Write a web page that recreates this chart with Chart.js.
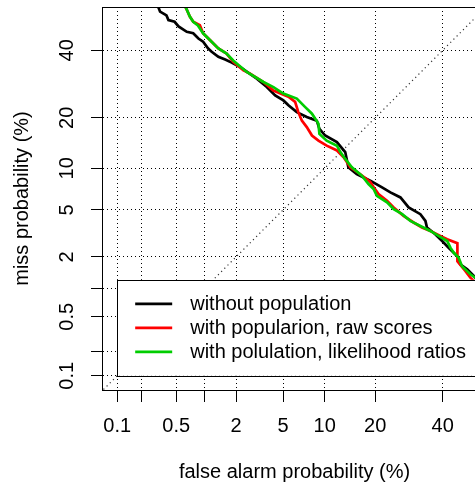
<!DOCTYPE html>
<html>
<head>
<meta charset="utf-8">
<script src="https://cdn.jsdelivr.net/npm/chart.js@4.4.1/dist/chart.umd.min.js"></script>
<style>
html, body { margin: 0; padding: 0; overflow: hidden; background: #fff; }
canvas { display: block; }
</style>
</head>
<body>
<canvas id="chart" width="500" height="484"></canvas>
<script>
// ticks (percent) and their labels, the same on both axes
const tickValues = [0.1, 0.2, 0.5, 1, 2, 5, 10, 20, 40];
const tickLabels = ["0.1", "", "0.5", "", "2", "5", "10", "20", "40"];
const axisLimits = [0.1, 50];

const seriesNames = ["without population", "with popularion, raw scores", "with polulation, likelihood ratios"];
const seriesColors = ["#000000", "#ff0000", "#00cd00"];

// false alarm (%) and miss (%)
const faWithout = [0.30, 0.33, 0.39, 0.41, 0.48, 0.53, 0.65, 0.76, 0.86, 0.96, 1.08, 1.17, 1.36, 1.58, 1.82,
		2.17, 2.49, 3.05, 3.70, 4.33, 5.03, 5.50, 6.36, 7.52, 8.84, 9.21, 10.06, 11.98, 13.5, 14.1,
		15.8, 18.8, 21.7, 23.9, 26.7, 29.1, 32.7, 34.3, 34.8, 37.5, 39.8, 42.0, 44.9, 46.0, 48.4, 50.7, 53.0, 55.1];
const missWithout = [56.5, 53.3, 52.0, 50.4, 49.8, 48.2, 46.3, 45.8, 44.0, 42.9, 40.6, 39.5, 37.8, 36.9, 35.9,
		34.5, 33.0, 30.8, 28.3, 25.9, 24.5, 23.2, 21.4, 20.2, 19.3, 17.4, 15.95, 14.6, 12.7, 10.15,
		9.15, 8.23, 7.38, 6.79, 6.23, 5.23, 4.63, 4.09, 3.61, 3.17, 2.77, 2.42, 2.03, 1.70, 1.53, 1.32, 1.09, 0.93];

const faRaw = [0.58, 0.64, 0.70, 0.76, 0.89, 0.96, 1.13, 1.36, 1.63, 1.88, 2.33, 2.67, 3.47, 4.19, 5.50,
		6.18, 6.53, 6.93, 7.52, 8.18, 9.07, 10.3, 12.0, 13.2, 14.5, 16.5, 18.8, 19.6, 20.8, 23.0,
		24.8, 27.6, 30.6, 33.2, 35.9, 39.2, 41.5, 45.0, 45.0, 47.8, 49.5, 52.3, 55.1];
const missRaw = [56.5, 54.5, 51.6, 49.8, 48.6, 45.8, 43.4, 40.6, 38.9, 36.2, 33.4, 32.4, 29.8, 27.3, 25.5,
		24.1, 21.4, 19.3, 17.8, 15.95, 14.9, 13.9, 13.0, 11.8, 10.15, 9.15, 8.06, 7.42, 6.60, 5.88,
		5.23, 4.49, 3.97, 3.61, 3.38, 3.07, 2.87, 2.65, 1.82, 1.47, 1.27, 1.07, 0.93];

const faLlr = [0.58, 0.64, 0.70, 0.76, 0.85, 0.96, 1.13, 1.36, 1.63, 1.88, 2.49, 3.47, 4.19, 5.03, 6.36,
		7.33, 8.18, 9.07, 9.21, 10.3, 12.0, 12.6, 13.5, 14.8, 16.9, 18.4, 19.6, 20.4, 23.0, 24.8,
		27.2, 29.6, 32.7, 35.9, 38.6, 41.5, 42.6, 43.7, 45.4, 46.6, 49.5, 51.2, 53.0, 55.1];
const missLlr = [56.5, 54.5, 51.6, 49.8, 48.5, 45.8, 43.4, 40.6, 38.9, 36.6, 32.9, 29.8, 28.3, 26.4, 25.0,
		22.7, 21.0, 18.6, 16.3, 14.9, 13.9, 12.7, 11.5, 10.15, 8.91, 7.80, 7.18, 6.41, 5.72, 5.08,
		4.63, 4.09, 3.72, 3.38, 3.07, 2.77, 2.42, 2.19, 1.97, 1.64, 1.37, 1.27, 1.12, 0.97];

const diagonal = [0.03, 70];

const FONT = { family: "'Liberation Sans', Arial, Helvetica, sans-serif", size: 20 };

// inverse normal cdf (Acklam)
function Probit(p)
{
	const a = [-3.969683028665376e+01, 2.209460984245205e+02, -2.759285104469687e+02,
			1.383577518672690e+02, -3.066479806614716e+01, 2.506628277459239e+00];
	const b = [-5.447609879822406e+01, 1.615858368580409e+02, -1.556989798598866e+02,
			6.680131188771972e+01, -1.328068155288572e+01];
	const c = [-7.784894002430293e-03, -3.223964580411365e-01, -2.400758277161838e+00,
			-2.549732539343734e+00, 4.374664141464968e+00, 2.938163982698783e+00];
	const d = [7.784695709041462e-03, 3.224671290700398e-01, 2.445134137142996e+00, 3.754408661907416e+00];
	const pl = 0.02425;
	if (p < pl)
	{
		const q = Math.sqrt(-2 * Math.log(p));
		return (((((c[0] * q + c[1]) * q + c[2]) * q + c[3]) * q + c[4]) * q + c[5]) /
				((((d[0] * q + d[1]) * q + d[2]) * q + d[3]) * q + 1);
	}
	if (p <= 1 - pl)
	{
		const q = p - 0.5, r = q * q;
		return (((((a[0] * r + a[1]) * r + a[2]) * r + a[3]) * r + a[4]) * r + a[5]) * q /
				(((((b[0] * r + b[1]) * r + b[2]) * r + b[3]) * r + b[4]) * r + 1);
	}
	const q = Math.sqrt(-2 * Math.log(1 - p));
	return -(((((c[0] * q + c[1]) * q + c[2]) * q + c[3]) * q + c[4]) * q + c[5]) /
			((((d[0] * q + d[1]) * q + d[2]) * q + d[3]) * q + 1);
}

function MakePoints(fa, miss)
{
	return fa.map((v, i) => ({ x: Probit(v / 100), y: Probit(miss[i] / 100) }));
}

const lo = Probit(axisLimits[0] / 100), hi = Probit(axisLimits[1] / 100);
const ext = 0.04 * (hi - lo);

function SetTicks(scale)
{
	scale.ticks = tickValues.map(v => ({ value: Probit(v / 100) }));
}

function NoLabelPadding(scale)
{
	scale.paddingTop = 0;
	scale.paddingBottom = 0;
	scale.paddingLeft = 0;
	scale.paddingRight = 0;
}

const rLegend = {
	id: "rLegend",
	afterDatasetsDraw(chart)
	{
		const { ctx, scales: { x, y } } = chart;
		const rowH = 24;
		const left = x.getPixelForValue(Probit(axisLimits[0] / 100));
		const bottom = y.getPixelForValue(Probit(axisLimits[0] / 100));
		const top = bottom - rowH * 4;
		ctx.save();
		ctx.font = FONT.size + "px " + FONT.family;
		let w = 0;
		for (const s of seriesNames)
			w = Math.max(w, ctx.measureText(s).width);
		ctx.fillStyle = "#fff";
		ctx.fillRect(left, top, 73 + w + 16, bottom - top);
		ctx.strokeStyle = "#000";
		ctx.lineWidth = 1;
		ctx.strokeRect(Math.round(left) + 0.5, Math.round(top) + 0.5, 73 + w + 16, Math.round(bottom - top));
		ctx.textBaseline = "middle";
		seriesNames.forEach((s, i) =>
		{
			const yy = top + rowH * (i + 1);
			ctx.strokeStyle = seriesColors[i];
			ctx.lineWidth = 2.7;
			ctx.beginPath();
			ctx.moveTo(left + 18, yy);
			ctx.lineTo(left + 55, yy);
			ctx.stroke();
			ctx.fillStyle = "#000";
			ctx.fillText(s, left + 73, yy + 1);
		});
		ctx.restore();
	}
};

const frame = {
	id: "frame",
	afterDraw(chart)
	{
		const { ctx, chartArea: { left, top, right, bottom } } = chart;
		ctx.save();
		ctx.strokeStyle = "#000";
		ctx.lineWidth = 1;
		ctx.strokeRect(left - 0.5, top + 0.5, right - left, bottom - top);
		ctx.restore();
	}
};

Chart.defaults.color = "#000";
Chart.defaults.font.family = FONT.family;
Chart.defaults.font.size = FONT.size;

function Line(fa, miss, color, order)
{
	return {
		data: MakePoints(fa, miss),
		borderColor: color,
		borderWidth: 2.7,
		pointRadius: 0,
		showLine: true,
		tension: 0,
		order: order,
	};
}

new Chart(document.getElementById("chart"), {
	type: "scatter",
	data: {
		datasets: [
			Line(faLlr, missLlr, seriesColors[2], 1),
			Line(faRaw, missRaw, seriesColors[1], 2),
			Line(faWithout, missWithout, seriesColors[0], 3),
			{
				data: MakePoints(diagonal, diagonal),
				borderColor: "#333",
				borderWidth: 1.2,
				borderDash: [1.2, 3.3],
				pointRadius: 0,
				showLine: true,
				order: 4,
			},
		]
	},
	options: {
		responsive: false,
		animation: false,
		devicePixelRatio: 1,
		layout: { padding: { top: 7, right: 14, left: 0, bottom: 0 } },
		plugins: { legend: { display: false }, tooltip: { enabled: false } },
		scales: {
			x: {
				type: "linear",
				min: lo - ext,
				max: hi + ext,
				afterBuildTicks: SetTicks,
				afterFit: s => { s.height = 94; NoLabelPadding(s); },
				ticks: { autoSkip: false, maxRotation: 0, padding: 12, callback: (v, i) => tickLabels[i] },
				grid: { color: "#000", lineWidth: 1, tickLength: 12, tickColor: "#000" },
				border: { display: false, dash: [1, 3] },
				title: { display: true, text: "false alarm probability (%)", padding: { top: 0, bottom: 0 } },
			},
			y: {
				type: "linear",
				min: lo - ext,
				max: hi + ext,
				afterBuildTicks: SetTicks,
				afterFit: s => { s.width = 103; NoLabelPadding(s); },
				ticks: { autoSkip: false, minRotation: 90, maxRotation: 90, padding: 10, crossAlign: "center",
						callback: (v, i) => tickLabels[i] },
				grid: { color: "#000", lineWidth: 1, tickLength: 12, tickColor: "#000" },
				border: { display: false, dash: [1, 3] },
				title: { display: true, text: "miss probability (%)", padding: { top: 10, bottom: 0 } },
			}
		}
	},
	plugins: [ rLegend, frame ],
});
</script>
</body>
</html>
